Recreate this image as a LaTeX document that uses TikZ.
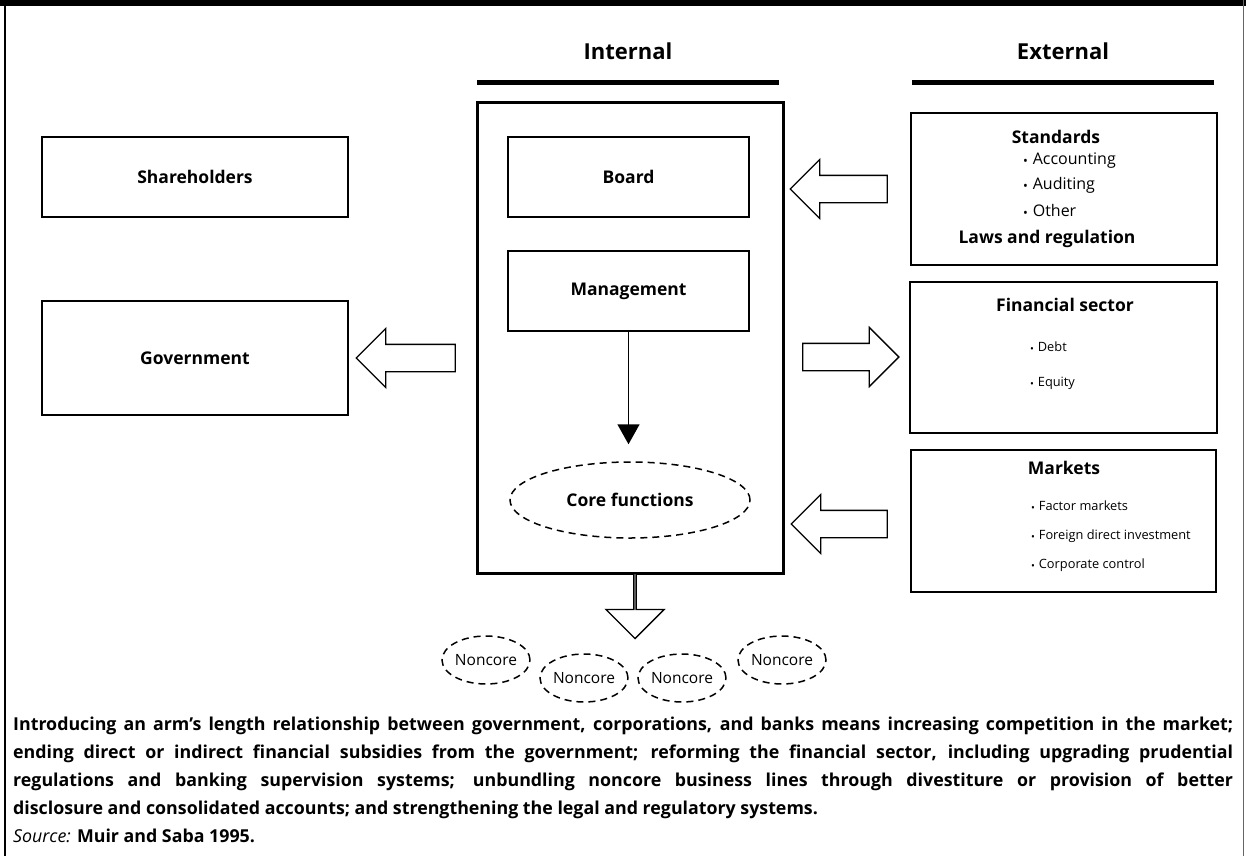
\documentclass[tikz,border=0pt]{standalone}
\usepackage{fontspec}
\setmainfont{Open Sans}
\usetikzlibrary{shapes.geometric,shapes.arrows,arrows.meta}
\newcommand\bul{\raisebox{-0.1ex}{\scalebox{0.8}{\textbullet}}\hspace{0.3em}}
\begin{document}
\begin{tikzpicture}[x=1pt,y=-1pt,
  box/.style={draw,line width=1.4pt,inner sep=0pt,font=\bfseries\fontsize{17.5}{20}\selectfont},
  lbl/.style={inner sep=0pt,text height=0.72em,text depth=0pt},
  head/.style={lbl,font=\bfseries\fontsize{22}{24}\selectfont},
  bold/.style={lbl,font=\bfseries\fontsize{17.5}{20}\selectfont},
  item/.style={lbl,anchor=west,font=\fontsize{12.8}{15}\selectfont},
  bigitem/.style={lbl,anchor=west,font=\fontsize{16}{18}\selectfont},
  blk/.style={single arrow,draw,line width=1.3pt,fill=white,inner sep=0pt,text width=0pt,
    text height=26pt,text depth=0pt,minimum width=58pt,single arrow head extend=16pt},
  dsh/.style={ellipse,draw,dashed,dash pattern=on 7pt off 5pt,line width=1.5pt,inner sep=0pt}
]
\useasboundingbox (0,0) rectangle (1246,856);
% frame
\fill (0,0) rectangle (1246,6);
\draw[line width=2.5pt] (5,0) -- (5,856);
\draw[line width=0.8pt,black!60] (1243,0) -- (1243,856);
% headers
\node[head] (hin) at (628,56) {Internal};
\node[head] (hex) at (1063,56) {External};
\fill (477,80) rectangle (779,85);
\fill (912,80) rectangle (1214,85);
% left boxes
\node[box,minimum width=306pt,minimum height=80pt] (share) at (195,177) {Shareholders};
\node[box,minimum width=306pt,minimum height=114pt] (gov) at (195,358) {Government};
% internal
\node[draw,line width=3pt,minimum width=306pt,minimum height=470pt] (int) at (630,338) {};
\node[box,minimum width=241pt,minimum height=80pt] (board) at (628.5,177) {Board};
\node[box,minimum width=241pt,minimum height=80pt] (mgmt) at (628.5,291) {Management};
\node[dsh,minimum width=240pt,minimum height=76pt,font=\bfseries\fontsize{17.5}{20}\selectfont] (core) at (630,500) {Core functions};
\draw[line width=1.5pt,-{Triangle[width=22pt,length=20pt]},shorten >=17pt] (mgmt.south) -- (mgmt.south |- core.north);
% external boxes
\node[draw,line width=1.4pt,minimum width=306pt,minimum height=152pt] (std) at (1064,189) {};
\node[bold] (stdt) at (1056,140) {Standards};
\node[bigitem] (s1) at (1023,161) {\bul Accounting};
\node[bigitem] (s2) at (1023,186) {\bul Auditing};
\node[bigitem] (s3) at (1023,213) {\bul Other};
\node[bold] (law) at (1047,240) {Laws and regulation};
\node[draw,line width=1.4pt,minimum width=307pt,minimum height=151pt] (fin) at (1063.5,357.5) {};
\node[bold] (fint) at (1065,308) {Financial sector};
\node[item] (f1) at (1030,348) {\bul Debt};
\node[item] (f2) at (1030,383) {\bul Equity};
\node[draw,line width=1.4pt,minimum width=305pt,minimum height=142pt] (mkt) at (1063.5,521) {};
\node[bold] (mktt) at (1064,471) {Markets};
\node[item] (m1) at (1031,507) {\bul Factor markets};
\node[item] (m2) at (1031,536) {\bul Foreign direct investment};
\node[item] (m3) at (1031,565) {\bul Corporate control};
% block arrows
\node[blk,minimum height=97pt,shape border rotate=180] (a1) at (845.5,189) {};
\node[blk,minimum height=99pt,shape border rotate=180] (a2) at (412.5,358) {};
\node[blk,minimum height=96pt] (a3) at (844,357) {};
\node[blk,minimum height=96pt,shape border rotate=180] (a4) at (846,524) {};
\node[blk,minimum height=65pt,shape border rotate=270] (a5) at (635,605.5) {};
% noncore
\node[dsh,minimum width=88pt,minimum height=48pt,font=\fontsize{15.5}{17}\selectfont] (n1) at (486,660) {Noncore};
\node[dsh,minimum width=88pt,minimum height=48pt,font=\fontsize{15.5}{17}\selectfont] (n2) at (584,678) {Noncore};
\node[dsh,minimum width=88pt,minimum height=48pt,font=\fontsize{15.5}{17}\selectfont] (n3) at (682,678) {Noncore};
\node[dsh,minimum width=88pt,minimum height=48pt,font=\fontsize{15.5}{17}\selectfont] (n4) at (782,660) {Noncore};
% caption
\node[anchor=north west,inner sep=0pt,text width=1220pt,align=justify,
  font=\bfseries\fontsize{17.8}{28}\selectfont] (cap) at (13,717)
{\sloppy\hyphenpenalty=10000
Introducing an arm’s length relationship between government, corporations, and banks means increasing competition in the market;\linebreak
ending direct or indirect financial subsidies from the government; reforming the financial sector, including upgrading prudential\linebreak
regulations and banking supervision systems; unbundling noncore business lines through divestiture or provision of better\linebreak
disclosure and consolidated accounts; and strengthening the legal and regulatory systems.\\
{\mdseries\itshape Source:} Muir and Saba 1995.};
\end{tikzpicture}
\end{document}
